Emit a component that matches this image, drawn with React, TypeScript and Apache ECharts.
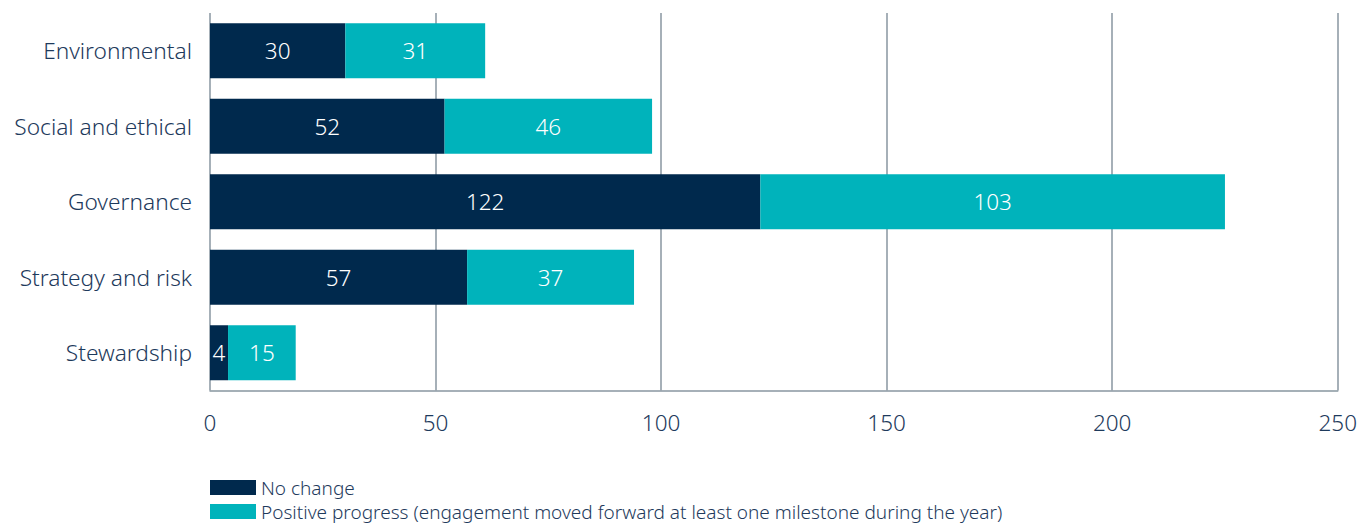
import React, { useEffect, useRef } from "react";
import * as echarts from "echarts";

const categories = ["Environmental", "Social and ethical", "Governance", "Strategy and risk", "Stewardship"];
const noChange = [30, 52, 122, 57, 4];
const positiveProgress = [31, 46, 103, 37, 15];
const seriesNames = ["No change", "Positive progress (engagement moved forward at least one milestone during the year)"];

const FONT = "'Noto Sans', 'Open Sans', sans-serif";
const TEXT = "#1e3a5c";
const GRID = "#8896a0";

export default function App() {
  const ref = useRef<HTMLDivElement>(null);
  useEffect(() => {
    if (!ref.current) return;
    const chart = echarts.init(ref.current, undefined, { renderer: "svg" });
    const legendBase = {
      orient: "horizontal",
      left: 205,
      itemWidth: 46,
      itemHeight: 15,
      icon: "rect",
      textStyle: { fontFamily: FONT, fontSize: 19, color: TEXT, fontWeight: 300 },
      padding: [0, 5, 0, 5],
    };
    chart.setOption({
      animation: false,
      textStyle: { fontFamily: FONT },
      grid: { left: 210, right: 22, top: 13, bottom: 135.5, containLabel: false },
      legend: [
        { ...legendBase, top: 478, data: [seriesNames[0]] },
        { ...legendBase, top: 502, data: [seriesNames[1]] },
      ],
      xAxis: {
        type: "value",
        min: 0,
        max: 250,
        interval: 50,
        axisLine: { show: true, lineStyle: { color: GRID, width: 1.5 } },
        axisTick: { show: false },
        splitLine: { show: true, lineStyle: { color: GRID, width: 1.5 } },
        axisLabel: { color: TEXT, fontSize: 22.5, fontFamily: FONT, fontWeight: 300, margin: 20 },
      },
      yAxis: {
        type: "category",
        inverse: true,
        data: categories,
        axisLine: { show: false },
        axisTick: { show: false },
        axisLabel: { color: TEXT, fontSize: 22.7, fontFamily: FONT, fontWeight: 300, margin: 18 },
      },
      series: [
        {
          name: seriesNames[0],
          type: "bar",
          stack: "total",
          barCategoryGap: "27%",
          data: noChange,
          itemStyle: { color: "#00294d" },
          label: { show: true, position: "inside", color: "#fff", fontSize: 22.5, fontFamily: FONT, fontWeight: 300 },
        },
        {
          name: seriesNames[1],
          type: "bar",
          stack: "total",
          barCategoryGap: "27%",
          data: positiveProgress,
          itemStyle: { color: "#00b3bb" },
          label: { show: true, position: "inside", color: "#fff", fontSize: 22.5, fontFamily: FONT, fontWeight: 300 },
        },
      ],
    });
    return () => chart.dispose();
  }, []);
  return <div ref={ref} style={{ width: 1360, height: 526, position: "absolute", left: 0, top: 0 }} />;
}
